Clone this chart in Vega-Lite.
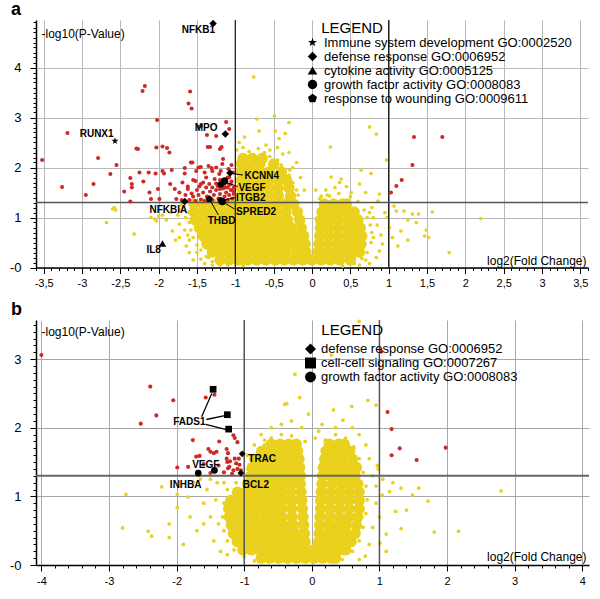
{
"$schema": "https://vega.github.io/schema/vega-lite/v6.json",
"padding": {"left": 9, "top": 1, "right": 4, "bottom": 2},
"config": {"view": {"stroke": null}, "font": "Liberation Sans"},
"spacing": 12,
"resolve": {"scale": {"shape": "independent"}, "legend": {"shape": "independent"}},
"datasets": {
"a_core": [
{"x":-1.2,"y":0.15},{"x":-1.08,"y":0.15},{"x":-0.96,"y":0.15},{"x":-0.84,"y":0.15},{"x":-0.72,"y":0.15},{"x":-0.6,"y":0.15},{"x":-0.48,"y":0.15},{"x":-0.36,"y":0.15},{"x":-0.24,"y":0.15},{"x":-0.12,"y":0.15},{"x":0,"y":0.15},{"x":0.12,"y":0.15},{"x":0.24,"y":0.15},{"x":0.36,"y":0.15},{"x":0.5,"y":0.15},
{"x":-1.3,"y":0.31},{"x":-1.18,"y":0.31},{"x":-1.06,"y":0.31},{"x":-0.94,"y":0.31},{"x":-0.82,"y":0.31},{"x":-0.7,"y":0.31},{"x":-0.58,"y":0.31},{"x":-0.46,"y":0.31},{"x":-0.34,"y":0.31},{"x":-0.2,"y":0.31},{"x":-0.08,"y":0.31},{"x":0.08,"y":0.31},{"x":0.2,"y":0.31},{"x":0.32,"y":0.31},{"x":0.44,"y":0.31},{"x":0.56,"y":0.31},{"x":0.62,"y":0.31},
{"x":-1.37,"y":0.47},{"x":-1.25,"y":0.47},{"x":-1.13,"y":0.47},{"x":-1.01,"y":0.47},{"x":-0.89,"y":0.47},{"x":-0.77,"y":0.47},{"x":-0.65,"y":0.47},{"x":-0.53,"y":0.47},{"x":-0.41,"y":0.47},{"x":-0.29,"y":0.47},{"x":-0.17,"y":0.47},{"x":-0.09,"y":0.47},{"x":0.09,"y":0.47},{"x":0.21,"y":0.47},{"x":0.33,"y":0.47},{"x":0.45,"y":0.47},{"x":0.57,"y":0.47},{"x":0.64,"y":0.47},
{"x":-1.42,"y":0.63},{"x":-1.3,"y":0.63},{"x":-1.18,"y":0.63},{"x":-1.06,"y":0.63},{"x":-0.94,"y":0.63},{"x":-0.82,"y":0.63},{"x":-0.7,"y":0.63},{"x":-0.58,"y":0.63},{"x":-0.46,"y":0.63},{"x":-0.34,"y":0.63},{"x":-0.22,"y":0.63},{"x":-0.11,"y":0.63},{"x":0.1,"y":0.63},{"x":0.22,"y":0.63},{"x":0.34,"y":0.63},{"x":0.46,"y":0.63},{"x":0.58,"y":0.63},{"x":0.65,"y":0.63},
{"x":-1.47,"y":0.79},{"x":-1.35,"y":0.79},{"x":-1.23,"y":0.79},{"x":-1.11,"y":0.79},{"x":-0.99,"y":0.79},{"x":-0.87,"y":0.79},{"x":-0.75,"y":0.79},{"x":-0.63,"y":0.79},{"x":-0.51,"y":0.79},{"x":-0.39,"y":0.79},{"x":-0.27,"y":0.79},{"x":-0.14,"y":0.79},{"x":0.11,"y":0.79},{"x":0.22,"y":0.79},{"x":0.34,"y":0.79},{"x":0.46,"y":0.79},{"x":0.56,"y":0.79},{"x":0.63,"y":0.79},
{"x":-1.52,"y":0.95},{"x":-1.4,"y":0.95},{"x":-1.28,"y":0.95},{"x":-1.16,"y":0.95},{"x":-1.04,"y":0.95},{"x":-0.92,"y":0.95},{"x":-0.8,"y":0.95},{"x":-0.68,"y":0.95},{"x":-0.56,"y":0.95},{"x":-0.44,"y":0.95},{"x":-0.32,"y":0.95},{"x":-0.16,"y":0.95},{"x":0.11,"y":0.95},{"x":0.23,"y":0.95},{"x":0.35,"y":0.95},{"x":0.47,"y":0.95},{"x":0.6,"y":0.95},
{"x":-1.54,"y":1.11},{"x":-1.42,"y":1.11},{"x":-1.3,"y":1.11},{"x":-1.18,"y":1.11},{"x":-1.06,"y":1.11},{"x":-0.94,"y":1.11},{"x":-0.82,"y":1.11},{"x":-0.7,"y":1.11},{"x":-0.58,"y":1.11},{"x":-0.46,"y":1.11},{"x":-0.34,"y":1.11},{"x":-0.19,"y":1.11},{"x":0.13,"y":1.11},{"x":0.25,"y":1.11},{"x":0.37,"y":1.11},{"x":0.47,"y":1.11},{"x":0.55,"y":1.11},
{"x":-1.54,"y":1.27},{"x":-1.42,"y":1.27},{"x":-1.3,"y":1.27},{"x":-1.18,"y":1.27},{"x":-1.06,"y":1.27},{"x":-0.94,"y":1.27},{"x":-0.82,"y":1.27},{"x":-0.7,"y":1.27},{"x":-0.58,"y":1.27},{"x":-0.46,"y":1.27},{"x":-0.34,"y":1.27},{"x":-0.24,"y":1.27},{"x":0.16,"y":1.27},{"x":0.28,"y":1.27},{"x":0.4,"y":1.27},{"x":0.45,"y":1.27},
{"x":-0.92,"y":1.43},{"x":-0.8,"y":1.43},{"x":-0.68,"y":1.43},{"x":-0.56,"y":1.43},{"x":-0.44,"y":1.43},{"x":-0.28,"y":1.43},
{"x":-0.92,"y":1.59},{"x":-0.8,"y":1.59},{"x":-0.68,"y":1.59},{"x":-0.56,"y":1.59},{"x":-0.44,"y":1.59},{"x":-0.3,"y":1.59},
{"x":-0.92,"y":1.75},{"x":-0.8,"y":1.75},{"x":-0.68,"y":1.75},{"x":-0.56,"y":1.75},{"x":-0.44,"y":1.75},{"x":-0.33,"y":1.75},
{"x":-0.92,"y":1.91},{"x":-0.8,"y":1.91},{"x":-0.68,"y":1.91},{"x":-0.56,"y":1.91},{"x":-0.4,"y":1.91},
{"x":-0.92,"y":2.07},{"x":-0.8,"y":2.07},{"x":-0.68,"y":2.07},{"x":-0.5,"y":2.07},
{"x":-0.9,"y":2.18},{"x":-0.78,"y":2.18},{"x":-0.65,"y":2.18}
],
"a_ns": [
{"x":-0.76,"y":3.81},{"x":-0.72,"y":2.97},{"x":-0.88,"y":2.61},{"x":-0.69,"y":2.73},{"x":-0.49,"y":3.03},{"x":-0.48,"y":2.73},{"x":-0.43,"y":2.58},{"x":-0.3,"y":2.9},{"x":-0.35,"y":2.68},{"x":0.75,"y":2.81},{"x":0.84,"y":2.67},{"x":0.24,"y":2.41},{"x":0.64,"y":1.95},{"x":0.77,"y":1.88},{"x":0.25,"y":1.81},{"x":0.38,"y":1.77},{"x":0.36,"y":1.7},{"x":0.62,"y":1.67},{"x":0.23,"y":1.43},{"x":0.12,"y":1.43},{"x":0.51,"y":1.5},{"x":0.88,"y":1.47},{"x":0.86,"y":1.33},{"x":0.97,"y":2.15},{"x":-0.38,"y":2.27},{"x":-0.29,"y":1.95},{"x":-0.2,"y":2.1},{"x":-0.15,"y":1.8},{"x":-0.1,"y":1.55},{"x":-0.6,"y":2.45},{"x":-0.95,"y":2.5},{"x":-0.55,"y":2.35},{"x":0.05,"y":1.55},{"x":0.3,"y":1.6},{"x":0.7,"y":1.5},{"x":0.45,"y":1.62},{"x":-0.3,"y":2.3},{"x":-0.25,"y":2.0},{"x":-0.45,"y":2.4},{"x":0.18,"y":1.55},
{"x":1.07,"y":1.23},{"x":1.2,"y":1.13},{"x":1.31,"y":1.07},{"x":1.39,"y":1.07},{"x":1.57,"y":1.11},{"x":2.2,"y":0.98},{"x":1.25,"y":0.95},{"x":1.36,"y":0.9},{"x":1.49,"y":0.75},{"x":1.47,"y":0.63},{"x":1.52,"y":0.6},{"x":1.25,"y":0.55},{"x":1.12,"y":0.43},{"x":1.79,"y":0.3},{"x":1.16,"y":0.73},{"x":1.1,"y":1.13},{"x":1.01,"y":0.8},{"x":1.05,"y":0.6},{"x":0.84,"y":0.2},{"x":0.88,"y":0.33},{"x":0.92,"y":0.47},{"x":0.8,"y":1.0},{"x":0.85,"y":0.85},{"x":0.9,"y":0.65},{"x":0.95,"y":1.1},{"x":0.78,"y":1.2},{"x":0.7,"y":0.15},{"x":0.75,"y":0.08},{"x":0.62,"y":0.05},{"x":0.98,"y":1.0},{"x":0.75,"y":1.1},{"x":0.8,"y":0.6},
{"x":-2.58,"y":1.2},{"x":-2.56,"y":1.15},{"x":-2.6,"y":1.17},{"x":-2.68,"y":0.9},{"x":-2.1,"y":1.0},{"x":-2.0,"y":1.03},{"x":-1.95,"y":1.05},{"x":-1.9,"y":0.95},{"x":-2.05,"y":0.97},{"x":-2.03,"y":0.93},{"x":-1.84,"y":1.1},{"x":-1.82,"y":0.73},{"x":-1.73,"y":0.87},{"x":-2.32,"y":0.67},{"x":-1.73,"y":0.6},{"x":-1.64,"y":0.43},{"x":-1.5,"y":0.3},{"x":-1.45,"y":0.17},{"x":-1.75,"y":1.05},{"x":-1.7,"y":1.25},{"x":-1.68,"y":1.2},{"x":-1.6,"y":0.3},{"x":-1.4,"y":0.08},{"x":-1.3,"y":0.05},{"x":-1.78,"y":0.55},{"x":-1.66,"y":0.75},{"x":-1.6,"y":0.55},{"x":-1.55,"y":0.15},{"x":-1.72,"y":1.15},{"x":-1.2,"y":0.05},{"x":-1.35,"y":0.2},
{"x":-1.62,"y":1.1},{"x":-1.6,"y":0.9},{"x":-1.58,"y":0.75},{"x":-1.55,"y":0.6},{"x":-1.5,"y":0.45},{"x":-1.45,"y":0.35},{"x":-1.38,"y":0.22},{"x":-1.3,"y":0.12},{"x":-1.65,"y":1.0},{"x":-1.67,"y":1.3},{"x":-1.62,"y":0.65},
{"x":-0.98,"y":2.35},{"x":-0.9,"y":2.4},{"x":-0.82,"y":2.32},{"x":-0.7,"y":2.38},{"x":-0.62,"y":2.3},{"x":-0.55,"y":2.22},{"x":-0.45,"y":2.15},{"x":-0.4,"y":2.05},{"x":-0.35,"y":1.95},{"x":-0.3,"y":1.85},{"x":-0.25,"y":1.7},{"x":-0.2,"y":1.55},{"x":-0.18,"y":1.45},
{"x":0.1,"y":1.38},{"x":0.2,"y":1.45},{"x":0.35,"y":1.48},{"x":0.5,"y":1.42},{"x":0.6,"y":1.32},{"x":0.68,"y":1.15},{"x":0.72,"y":1.0},{"x":0.76,"y":0.85},{"x":0.78,"y":0.7},{"x":0.77,"y":0.5},{"x":0.72,"y":0.3},{"x":0.65,"y":0.18},{"x":0.55,"y":0.08},{"x":-1.1,"y":0.05},{"x":-0.9,"y":0.04},{"x":0.4,"y":0.03}
],
"a_sig": [
{"x":-2.18,"y":3.63},{"x":-2.21,"y":3.53},{"x":-1.59,"y":3.52},{"x":-1.61,"y":3.28},{"x":-1.57,"y":3.18},{"x":-2.02,"y":2.95},{"x":-1.12,"y":2.91},{"x":-3.19,"y":2.69},{"x":-1.48,"y":2.81},{"x":-1.45,"y":2.83},{"x":-1.37,"y":2.65},{"x":-1.25,"y":2.63},{"x":-1.08,"y":2.77},{"x":-1.36,"y":2.41},{"x":-1.33,"y":2.41},{"x":-1.18,"y":2.41},{"x":-1.2,"y":2.37},{"x":-2.27,"y":2.37},{"x":-2.03,"y":2.4},{"x":-1.95,"y":2.42},{"x":-1.89,"y":2.39},
{"x":-3.52,"y":2.15},{"x":-3.26,"y":1.61},{"x":-2.95,"y":1.45},{"x":-2.79,"y":2.19},{"x":-2.63,"y":1.87},{"x":-2.55,"y":2.05},{"x":-2.85,"y":1.67},{"x":-2.37,"y":1.32},{"x":-2.45,"y":1.52},{"x":-2.37,"y":1.79},{"x":-2.35,"y":1.67},{"x":-2.35,"y":1.6},{"x":-2.29,"y":2.38},{"x":-2.25,"y":1.9},{"x":-2.2,"y":1.72},{"x":-2.13,"y":1.9},{"x":-2.12,"y":1.5},{"x":-2.1,"y":1.37},{"x":-2.04,"y":1.88},{"x":-2.01,"y":1.57},{"x":-1.99,"y":1.37},{"x":-1.95,"y":1.93},{"x":-1.93,"y":1.88},{"x":-1.86,"y":2.3},{"x":-1.85,"y":1.67},{"x":-1.83,"y":1.95},{"x":-1.79,"y":1.57},{"x":-1.77,"y":1.37},{"x":-1.73,"y":1.5},{"x":-1.69,"y":1.7},{"x":-1.66,"y":1.99},{"x":-1.66,"y":1.88},{"x":-1.62,"y":1.57},{"x":-1.58,"y":2.1},{"x":-1.56,"y":2.1},{"x":-1.52,"y":1.73},{"x":-1.51,"y":1.93},{"x":-1.48,"y":2.0},{"x":-1.45,"y":2.01},{"x":-1.45,"y":1.67},{"x":-1.4,"y":1.9},{"x":-1.38,"y":1.8},{"x":-1.38,"y":1.6},{"x":-1.35,"y":2.03},{"x":-1.34,"y":1.67},{"x":-1.31,"y":1.99},{"x":-1.3,"y":1.93},{"x":-1.27,"y":1.77},{"x":-1.25,"y":2.0},{"x":-1.23,"y":1.63},{"x":-1.21,"y":1.87},{"x":-1.19,"y":1.93},{"x":-1.17,"y":2.07},{"x":-1.16,"y":2.17},{"x":-1.13,"y":1.73},{"x":-1.1,"y":1.6},{"x":-1.09,"y":1.97},{"x":-1.08,"y":1.8},{"x":-1.06,"y":1.67},{"x":-1.03,"y":1.53},
{"x":-1.6,"y":1.35},{"x":-1.55,"y":1.42},{"x":-1.52,"y":1.33},{"x":-1.48,"y":1.45},{"x":-1.45,"y":1.36},{"x":-1.42,"y":1.5},{"x":-1.4,"y":1.33},{"x":-1.37,"y":1.42},{"x":-1.33,"y":1.52},{"x":-1.3,"y":1.35},{"x":-1.28,"y":1.45},{"x":-1.25,"y":1.55},{"x":-1.22,"y":1.38},{"x":-1.2,"y":1.47},{"x":-1.18,"y":1.32},{"x":-1.16,"y":1.58},{"x":-1.14,"y":1.42},{"x":-1.12,"y":1.5},{"x":-1.1,"y":1.35},{"x":-1.08,"y":1.45},{"x":-1.06,"y":1.55},{"x":-1.04,"y":1.38},{"x":-1.02,"y":1.47},{"x":-1.25,"y":1.68},{"x":-1.2,"y":1.75},{"x":-1.15,"y":1.65},{"x":-1.1,"y":1.8},{"x":-1.05,"y":1.72},{"x":-1.3,"y":1.6},{"x":-1.35,"y":1.35},{"x":-1.5,"y":1.55},{"x":-1.57,"y":1.48},{"x":-1.65,"y":1.45},{"x":-1.7,"y":1.35},{"x":-1.62,"y":1.62},{"x":-1.55,"y":1.75},{"x":-1.47,"y":1.62},{"x":-1.42,"y":1.7},{"x":-1.2,"y":1.57},{"x":-1.13,"y":1.6},{"x":-1.08,"y":1.65},{"x":-1.02,"y":1.6},{"x":-1.03,"y":1.9},{"x":-1.05,"y":2.05},
{"x":1.33,"y":2.61},{"x":1.7,"y":2.61},{"x":1.31,"y":2.05},{"x":1.17,"y":1.75},{"x":1.1,"y":1.63},{"x":1.03,"y":1.5}
],
"a_mk": [
{"g":"NFKB1","x":-1.29,"y":4.88,"go":"defense response GO:0006952"},
{"g":"RUNX1","x":-2.57,"y":2.53,"go":"Immune system development GO:0002520"},
{"g":"MPO","x":-1.13,"y":2.67,"go":"defense response GO:0006952"},
{"g":"KCNN4","x":-1.07,"y":1.89,"go":"defense response GO:0006952"},
{"g":"VEGF","x":-1.14,"y":1.73,"go":"growth factor activity GO:0008083"},
{"g":"VEGF","x":-1.19,"y":1.66,"go":"response to wounding GO:0009611"},
{"g":"ITGB2","x":-1.19,"y":1.34,"go":"response to wounding GO:0009611"},
{"g":"SPRED2","x":-1.17,"y":1.32,"go":"growth factor activity GO:0008083"},
{"g":"THBD","x":-1.34,"y":1.37,"go":"response to wounding GO:0009611"},
{"g":"NFKBIA","x":-1.66,"y":1.32,"go":"defense response GO:0006952"},
{"g":"IL8","x":-1.95,"y":0.48,"go":"cytokine activity GO:0005125"}
],
"a_lab": [
{"t":"NFKB1","x":-1.7,"y":4.75},{"t":"RUNX1","x":-3.03,"y":2.67},{"t":"MPO","x":-1.53,"y":2.79},{"t":"KCNN4","x":-0.88,"y":1.83},{"t":"VEGF","x":-0.96,"y":1.6},{"t":"ITGB2","x":-0.99,"y":1.4},{"t":"SPRED2","x":-0.99,"y":1.12},{"t":"THBD","x":-1.36,"y":0.93},{"t":"NFKBIA","x":-2.12,"y":1.15},{"t":"IL8","x":-2.16,"y":0.35}
],
"a_lead": [
{"x":-1.34,"y":1.37,"x2":-1.22,"y2":1.05},{"x":-1.17,"y":1.32,"x2":-1.01,"y2":1.17},{"x":-1.15,"y":1.35,"x2":-1.0,"y2":1.4},{"x":-1.04,"y":1.88,"x2":-0.9,"y2":1.85},{"x":-1.12,"y":1.7,"x2":-0.97,"y2":1.62}
],
"a_leg": [{"t":"LEGEND","x":0.12,"y":4.79}],
"a_v": [{"x":-1},{"x":1}],
"a_h": [{"y":1.3}],
"b_core": [
{"x":-0.75,"y":0.1},{"x":-0.62,"y":0.1},{"x":-0.49,"y":0.1},{"x":-0.36,"y":0.1},{"x":-0.23,"y":0.1},{"x":-0.1,"y":0.1},{"x":0.03,"y":0.1},{"x":0.16,"y":0.1},{"x":0.29,"y":0.1},{"x":0.35,"y":0.1},
{"x":-1.02,"y":0.22},{"x":-0.89,"y":0.22},{"x":-0.76,"y":0.22},{"x":-0.63,"y":0.22},{"x":-0.5,"y":0.22},{"x":-0.37,"y":0.22},{"x":-0.24,"y":0.22},{"x":-0.11,"y":0.22},{"x":0.02,"y":0.22},{"x":0.15,"y":0.22},{"x":0.28,"y":0.22},{"x":0.41,"y":0.22},{"x":0.5,"y":0.22},
{"x":-1.1,"y":0.34},{"x":-0.97,"y":0.34},{"x":-0.84,"y":0.34},{"x":-0.71,"y":0.34},{"x":-0.58,"y":0.34},{"x":-0.45,"y":0.34},{"x":-0.32,"y":0.34},{"x":-0.2,"y":0.34},{"x":-0.1,"y":0.34},{"x":0.1,"y":0.34},{"x":0.22,"y":0.34},{"x":0.34,"y":0.34},{"x":0.46,"y":0.34},{"x":0.58,"y":0.34},
{"x":-1.16,"y":0.46},{"x":-1.03,"y":0.46},{"x":-0.9,"y":0.46},{"x":-0.77,"y":0.46},{"x":-0.64,"y":0.46},{"x":-0.51,"y":0.46},{"x":-0.38,"y":0.46},{"x":-0.24,"y":0.46},{"x":-0.11,"y":0.46},{"x":0.11,"y":0.46},{"x":0.24,"y":0.46},{"x":0.37,"y":0.46},{"x":0.5,"y":0.46},{"x":0.64,"y":0.46},
{"x":-1.19,"y":0.58},{"x":-1.06,"y":0.58},{"x":-0.93,"y":0.58},{"x":-0.8,"y":0.58},{"x":-0.67,"y":0.58},{"x":-0.54,"y":0.58},{"x":-0.41,"y":0.58},{"x":-0.27,"y":0.58},{"x":-0.12,"y":0.58},{"x":0.115,"y":0.58},{"x":0.25,"y":0.58},{"x":0.38,"y":0.58},{"x":0.51,"y":0.58},{"x":0.66,"y":0.58},
{"x":-1.22,"y":0.7},{"x":-1.09,"y":0.7},{"x":-0.96,"y":0.7},{"x":-0.83,"y":0.7},{"x":-0.7,"y":0.7},{"x":-0.57,"y":0.7},{"x":-0.44,"y":0.7},{"x":-0.29,"y":0.7},{"x":-0.13,"y":0.7},{"x":0.12,"y":0.7},{"x":0.26,"y":0.7},{"x":0.4,"y":0.7},{"x":0.54,"y":0.7},{"x":0.68,"y":0.7},
{"x":-1.23,"y":0.82},{"x":-1.1,"y":0.82},{"x":-0.97,"y":0.82},{"x":-0.84,"y":0.82},{"x":-0.71,"y":0.82},{"x":-0.58,"y":0.82},{"x":-0.45,"y":0.82},{"x":-0.3,"y":0.82},{"x":-0.14,"y":0.82},{"x":0.13,"y":0.82},{"x":0.27,"y":0.82},{"x":0.41,"y":0.82},{"x":0.55,"y":0.82},{"x":0.7,"y":0.82},
{"x":-1.2,"y":0.94},{"x":-1.07,"y":0.94},{"x":-0.94,"y":0.94},{"x":-0.81,"y":0.94},{"x":-0.68,"y":0.94},{"x":-0.55,"y":0.94},{"x":-0.42,"y":0.94},{"x":-0.29,"y":0.94},{"x":-0.15,"y":0.94},{"x":0.13,"y":0.94},{"x":0.27,"y":0.94},{"x":0.41,"y":0.94},{"x":0.55,"y":0.94},{"x":0.7,"y":0.94},
{"x":-1.1,"y":1.06},{"x":-0.97,"y":1.06},{"x":-0.84,"y":1.06},{"x":-0.71,"y":1.06},{"x":-0.58,"y":1.06},{"x":-0.45,"y":1.06},{"x":-0.31,"y":1.06},{"x":-0.16,"y":1.06},{"x":0.14,"y":1.06},{"x":0.28,"y":1.06},{"x":0.42,"y":1.06},{"x":0.56,"y":1.06},{"x":0.7,"y":1.06},
{"x":-0.95,"y":1.18},{"x":-0.82,"y":1.18},{"x":-0.69,"y":1.18},{"x":-0.56,"y":1.18},{"x":-0.43,"y":1.18},{"x":-0.3,"y":1.18},{"x":-0.17,"y":1.18},{"x":0.15,"y":1.18},{"x":0.3,"y":1.18},{"x":0.44,"y":1.18},{"x":0.57,"y":1.18},{"x":0.68,"y":1.18},
{"x":-0.9,"y":1.3},{"x":-0.77,"y":1.3},{"x":-0.64,"y":1.3},{"x":-0.51,"y":1.3},{"x":-0.38,"y":1.3},{"x":-0.27,"y":1.3},{"x":-0.17,"y":1.3},{"x":0.16,"y":1.3},{"x":0.28,"y":1.3},{"x":0.4,"y":1.3},{"x":0.52,"y":1.3},{"x":0.64,"y":1.3},
{"x":-0.88,"y":1.42},{"x":-0.75,"y":1.42},{"x":-0.62,"y":1.42},{"x":-0.49,"y":1.42},{"x":-0.36,"y":1.42},{"x":-0.25,"y":1.42},{"x":-0.18,"y":1.42},{"x":0.17,"y":1.42},{"x":0.3,"y":1.42},{"x":0.43,"y":1.42},{"x":0.56,"y":1.42},{"x":0.66,"y":1.42},
{"x":-0.84,"y":1.54},{"x":-0.71,"y":1.54},{"x":-0.58,"y":1.54},{"x":-0.45,"y":1.54},{"x":-0.32,"y":1.54},{"x":-0.19,"y":1.54},{"x":0.19,"y":1.54},{"x":0.32,"y":1.54},{"x":0.45,"y":1.54},{"x":0.6,"y":1.54},
{"x":-0.74,"y":1.66},{"x":-0.61,"y":1.66},{"x":-0.48,"y":1.66},{"x":-0.35,"y":1.66},{"x":-0.21,"y":1.66},{"x":0.21,"y":1.66},{"x":0.34,"y":1.66},{"x":0.47,"y":1.66},{"x":0.56,"y":1.66},
{"x":-0.6,"y":1.76},{"x":-0.47,"y":1.76},{"x":-0.34,"y":1.76},{"x":-0.23,"y":1.76},{"x":0.26,"y":1.76},{"x":0.4,"y":1.76},{"x":0.48,"y":1.76}
],
"b_ns": [
{"x":0.7,"y":3.55},{"x":-0.25,"y":2.78},{"x":0.29,"y":3.06},{"x":-0.4,"y":2.34},{"x":-0.18,"y":2.44},{"x":0.83,"y":2.4},{"x":0.95,"y":2.33},{"x":0.32,"y":2.26},{"x":0.59,"y":2.31},{"x":0.46,"y":2.11},{"x":-0.37,"y":2.35},{"x":0.15,"y":2.05},{"x":-0.05,"y":2.2},{"x":-0.3,"y":2.1},{"x":-0.45,"y":2.05},{"x":-0.6,"y":2.0},{"x":-0.75,"y":1.9},{"x":-0.85,"y":1.75},{"x":-0.95,"y":1.6},{"x":0.7,"y":1.9},{"x":0.8,"y":1.75},{"x":0.85,"y":1.55},{"x":0.9,"y":1.3},{"x":0.6,"y":2.0},{"x":0.35,"y":2.0},{"x":0.05,"y":1.85},{"x":0.1,"y":1.95},{"x":-0.15,"y":2.0},{"x":0.5,"y":1.8},{"x":0.62,"y":1.72},{"x":0.2,"y":1.82},{"x":-0.1,"y":1.8},{"x":-0.7,"y":1.82},
{"x":-2.75,"y":1.03},{"x":-2.8,"y":0.54},{"x":-2.42,"y":0.49},{"x":-2.37,"y":0.42},{"x":-2.11,"y":0.6},{"x":-2.11,"y":0.4},{"x":-2.22,"y":1.14},{"x":-1.99,"y":1.03},{"x":-1.99,"y":0.84},{"x":-1.83,"y":0.99},{"x":-1.8,"y":0.7},{"x":-1.7,"y":0.5},{"x":-1.6,"y":0.9},{"x":-1.55,"y":1.1},{"x":-1.5,"y":0.7},{"x":-1.45,"y":0.35},{"x":-1.4,"y":1.2},{"x":-1.35,"y":0.2},{"x":-1.75,"y":1.2},{"x":-1.65,"y":1.25},{"x":-1.9,"y":0.3},{"x":-1.5,"y":1.25},{"x":-1.42,"y":0.95},{"x":-1.3,"y":1.2},{"x":-1.6,"y":0.6},{"x":-1.38,"y":0.6},{"x":-1.25,"y":0.15},
{"x":2.8,"y":1.08},{"x":2.17,"y":0.49},{"x":1.81,"y":0.48},{"x":1.72,"y":0.93},{"x":1.58,"y":1.12},{"x":1.49,"y":1.02},{"x":1.32,"y":1.12},{"x":1.15,"y":1.07},{"x":1.24,"y":0.78},{"x":1.32,"y":0.53},{"x":1.04,"y":1.02},{"x":0.79,"y":0.13},{"x":1.01,"y":0.32},{"x":1.1,"y":0.45},{"x":0.95,"y":0.9},{"x":1.0,"y":0.7},{"x":0.9,"y":0.55},{"x":0.85,"y":0.3},{"x":1.2,"y":1.2},{"x":1.4,"y":0.8},{"x":1.1,"y":0.2},{"x":0.95,"y":1.15},{"x":1.05,"y":1.25},{"x":0.7,"y":0.08},{"x":0.97,"y":1.45},{"x":0.98,"y":1.4},
{"x":-1.3,"y":0.9},{"x":-1.32,"y":0.7},{"x":-1.3,"y":0.5},{"x":-1.25,"y":0.35},{"x":-1.15,"y":0.22},{"x":-1.0,"y":0.12},{"x":-0.85,"y":0.06},{"x":-1.25,"y":1.1},{"x":-1.12,"y":1.2},
{"x":-0.95,"y":1.4},{"x":-0.9,"y":1.55},{"x":-0.8,"y":1.65},{"x":-0.7,"y":1.75},{"x":-0.6,"y":1.85},{"x":-0.45,"y":1.9},{"x":-0.3,"y":1.88},{"x":-0.2,"y":1.8},
{"x":0.2,"y":1.8},{"x":0.35,"y":1.9},{"x":0.5,"y":1.85},{"x":0.62,"y":1.7},{"x":0.7,"y":1.55},{"x":0.76,"y":1.35},{"x":0.8,"y":1.15},{"x":0.82,"y":0.95},{"x":0.8,"y":0.75},{"x":0.76,"y":0.55},{"x":0.7,"y":0.35},{"x":0.6,"y":0.2},{"x":0.45,"y":0.08}
],
"b_sig": [
{"x":-4.0,"y":3.06},{"x":-2.39,"y":2.6},{"x":-2.05,"y":2.4},{"x":-2.3,"y":2.18},{"x":-2.53,"y":2.06},{"x":-1.57,"y":2.44},{"x":-1.44,"y":2.48},{"x":-1.76,"y":1.82},{"x":-1.37,"y":1.8},{"x":-1.16,"y":1.89},{"x":-1.14,"y":1.85},{"x":-1.1,"y":1.79},{"x":-1.53,"y":1.69},{"x":-1.5,"y":1.65},{"x":-1.41,"y":1.65},{"x":-1.66,"y":1.59},{"x":-1.71,"y":1.58},{"x":-1.99,"y":1.42},{"x":-1.83,"y":1.43},{"x":-1.26,"y":1.69},{"x":-1.24,"y":1.63},{"x":-1.26,"y":1.55},{"x":-1.21,"y":1.51},{"x":-1.14,"y":1.55},{"x":-1.12,"y":1.48},{"x":-1.07,"y":1.46},{"x":-1.24,"y":1.41},{"x":-1.16,"y":1.38},{"x":-1.45,"y":1.63},{"x":-1.5,"y":1.34},{"x":-1.25,"y":1.5},{"x":-1.22,"y":1.43},{"x":-1.1,"y":1.4},{"x":-1.05,"y":1.38},{"x":-1.3,"y":1.35},{"x":-1.6,"y":1.47},{"x":-1.38,"y":1.45},{"x":-1.18,"y":1.33},{"x":-1.08,"y":1.55},
{"x":1.12,"y":2.23},{"x":1.18,"y":1.98},{"x":1.3,"y":1.7},{"x":1.18,"y":1.6},{"x":1.55,"y":1.53},{"x":1.98,"y":1.71},{"x":1.03,"y":3.11}
],
"b_mk": [
{"g":"FADS1","x":-1.46,"y":2.56,"go":"cell-cell signaling GO:0007267"},
{"g":"FADS1","x":-1.25,"y":2.19,"go":"cell-cell signaling GO:0007267"},
{"g":"FADS1","x":-1.23,"y":1.98,"go":"cell-cell signaling GO:0007267"},
{"g":"TRAC","x":-1.03,"y":1.62,"go":"defense response GO:0006952"},
{"g":"VEGF","x":-1.44,"y":1.38,"go":"growth factor activity GO:0008083"},
{"g":"INHBA","x":-1.68,"y":1.34,"go":"growth factor activity GO:0008083"},
{"g":"BCL2","x":-1.05,"y":1.34,"go":"defense response GO:0006952"}
],
"b_lab": [
{"t":"FADS1","x":-2.05,"y":2.09},{"t":"TRAC","x":-0.94,"y":1.55},{"t":"VEGF","x":-1.77,"y":1.46},{"t":"INHBA","x":-2.1,"y":1.16},{"t":"BCL2","x":-1.02,"y":1.16}
],
"b_lead": [
{"x":-1.63,"y":2.16,"x2":-1.48,"y2":2.5},{"x":-1.56,"y":2.12,"x2":-1.27,"y2":2.18},{"x":-1.57,"y":2.05,"x2":-1.25,"y2":1.97}
],
"b_leg": [{"t":"LEGEND","x":0.14,"y":3.42}],
"b_v": [{"x":-1},{"x":1}],
"b_h": [{"y":1.3}]
},
"vconcat": [
{
"width": 552, "height": 247.5,
"title": {"text": "a", "anchor": "start", "frame": "group", "fontSize": 18, "fontWeight": "bold", "font": "Liberation Sans", "dx": -25, "offset": 0},
"resolve": {"axis": {"x": "independent", "y": "independent"}},
"layer": [
{"data": {"name": "a_core"}, "mark": {"type": "point", "filled": true, "size": 130, "color": "#E9D11E", "opacity": 1},
 "encoding": {
  "x": {"field": "x", "type": "quantitative", "scale": {"domain": [-3.6, 3.6], "nice": false, "zero": false},
   "axis": {"orient": "bottom", "values": [-3.5,-3,-2.5,-2,-1.5,-1,-0.5,0,0.5,1,1.5,2,2.5,3,3.5],
    "labelExpr": "replace(replace(format(datum.value,'~g'),'−','-'),'.',',')",
    "tickSize": 6, "grid": true, "gridColor": "#b8b8b8", "gridWidth": 1,
    "domainColor": "black", "domainWidth": 1.5, "tickColor": "black", "tickWidth": 1,
    "labelFont": "Liberation Sans Narrow, Liberation Sans", "labelFontSize": 11, "labelColor": "black", "labelPadding": 4,
    "labelOverlap": false, "labelFlush": false, "labelBound": false,
    "title": "log2(Fold Change)", "titleFont": "Liberation Sans Narrow, Liberation Sans", "titleFontSize": 12, "titleFontWeight": "normal", "titleColor": "black",
    "titleAnchor": "end", "titleAlign": "right", "titleBaseline": "middle", "titleX": 550, "titleY": -7.5}},
  "y": {"field": "y", "type": "quantitative", "scale": {"domain": [0, 4.95], "nice": false, "zero": false},
   "axis": {"orient": "left", "values": [0,1,2,3,4],
    "labelExpr": "datum.value==0 ? '-0' : datum.label",
    "tickSize": 6, "grid": true, "gridColor": "#b8b8b8", "gridWidth": 1,
    "domainColor": "black", "domainWidth": 1.5, "tickColor": "black", "tickWidth": 1,
    "labelFont": "Liberation Sans", "labelFontSize": 13, "labelColor": "black", "labelPadding": 9,
    "labelOverlap": false, "labelFlush": false, "labelBound": false,
    "title": "-log10(P-Value)", "titleFont": "Liberation Sans Narrow, Liberation Sans", "titleFontSize": 12, "titleFontWeight": "normal", "titleColor": "black",
    "titleAngle": 0, "titleAlign": "left", "titleBaseline": "middle", "titleX": 5, "titleY": 13.5}}
 }},
{"data": {"name": "a_ns"}, "mark": {"type": "point", "filled": true, "size": 14, "color": "#E9D11E", "opacity": 1},
 "encoding": {"x": {"field": "x", "type": "quantitative", "scale": {"domain": [-3.6, 3.6], "nice": false, "zero": false},
   "axis": {"orient": "bottom", "values": [-3.6,-3.4,-3.3,-3.2,-3.1,-2.9,-2.8,-2.7,-2.6,-2.4,-2.3,-2.2,-2.1,-1.9,-1.8,-1.7,-1.6,-1.4,-1.3,-1.2,-1.1,-0.9,-0.8,-0.7,-0.6,-0.4,-0.3,-0.2,-0.1,0.1,0.2,0.3,0.4,0.6,0.7,0.8,0.9,1.1,1.2,1.3,1.4,1.6,1.7,1.8,1.9,2.1,2.2,2.3,2.4,2.6,2.7,2.8,2.9,3.1,3.2,3.3,3.4,3.6], "labels": false, "domain": false, "grid": false, "tickSize": 3, "tickColor": "black", "tickWidth": 1, "title": null}},
  "y": {"field": "y", "type": "quantitative", "scale": {"domain": [0, 4.95], "nice": false, "zero": false},
   "axis": {"orient": "left", "values": [0.1,0.2,0.3,0.4,0.5,0.6,0.7,0.8,0.9,1.1,1.2,1.3,1.4,1.5,1.6,1.7,1.8,1.9,2.1,2.2,2.3,2.4,2.5,2.6,2.7,2.8,2.9,3.1,3.2,3.3,3.4,3.5,3.6,3.7,3.8,3.9,4.1,4.2,4.3,4.4,4.5,4.6,4.7,4.8,4.9], "labels": false, "domain": false, "grid": false, "tickSize": 3, "tickColor": "black", "tickWidth": 1, "title": null}}}},
{"data": {"name": "a_v"}, "mark": {"type": "rule", "color": "#222", "strokeWidth": 1.3},
 "encoding": {"x": {"field": "x", "type": "quantitative", "scale": {"domain": [-3.6, 3.6], "nice": false, "zero": false}, "axis": null}}},
{"data": {"name": "a_h"}, "mark": {"type": "rule", "color": "#555", "strokeWidth": 1.3},
 "encoding": {"y": {"field": "y", "type": "quantitative", "scale": {"domain": [0, 4.95], "nice": false, "zero": false}, "axis": null}}},
{"data": {"name": "a_sig"}, "mark": {"type": "point", "filled": true, "size": 17, "color": "#CC2A2A", "opacity": 1},
 "encoding": {"x": {"field": "x", "type": "quantitative", "scale": {"domain": [-3.6, 3.6], "nice": false, "zero": false}, "axis": null},
  "y": {"field": "y", "type": "quantitative", "scale": {"domain": [0, 4.95], "nice": false, "zero": false}, "axis": null}}},
{"data": {"name": "a_lead"}, "mark": {"type": "rule", "color": "black", "strokeWidth": 1},
 "encoding": {"x": {"field": "x", "type": "quantitative", "scale": {"domain": [-3.6, 3.6], "nice": false, "zero": false}, "axis": null},
  "y": {"field": "y", "type": "quantitative", "scale": {"domain": [0, 4.95], "nice": false, "zero": false}, "axis": null},
  "x2": {"field": "x2"}, "y2": {"field": "y2"}}},
{"data": {"name": "a_mk"}, "mark": {"type": "point", "filled": true, "size": 55, "color": "black", "opacity": 1},
 "encoding": {"x": {"field": "x", "type": "quantitative", "scale": {"domain": [-3.6, 3.6], "nice": false, "zero": false}, "axis": null},
  "y": {"field": "y", "type": "quantitative", "scale": {"domain": [0, 4.95], "nice": false, "zero": false}, "axis": null},
  "shape": {"field": "go", "type": "nominal",
   "scale": {"domain": ["Immune system development GO:0002520", "defense response GO:0006952", "cytokine activity GO:0005125", "growth factor activity GO:0008083", "response to wounding GO:0009611"],
    "range": ["M0,-1L0.2245,-0.309L0.951,-0.309L0.363,0.118L0.588,0.809L0,0.382L-0.588,0.809L-0.363,0.118L-0.951,-0.309L-0.2245,-0.309Z", "diamond", "triangle-up", "circle", "M0,-1L0.95,-0.31L0.59,0.81L-0.59,0.81L-0.95,-0.31Z"]},
   "legend": {"orient": "none", "legendX": 270, "legendY": 16, "title": null, "padding": 0, "labelFont": "Liberation Sans", "labelFontSize": 13, "labelColor": "black", "labelOffset": 5, "labelLimit": 400, "symbolSize": 90, "symbolFillColor": "black", "symbolStrokeColor": "black", "symbolStrokeWidth": 0, "rowPadding": -0.4, "symbolOffset": 0}}}},
{"data": {"name": "a_lab"}, "mark": {"type": "text", "align": "left", "baseline": "middle", "fontSize": 10, "fontWeight": "bold", "font": "Liberation Sans", "color": "black"},
 "encoding": {"x": {"field": "x", "type": "quantitative", "scale": {"domain": [-3.6, 3.6], "nice": false, "zero": false}, "axis": null},
  "y": {"field": "y", "type": "quantitative", "scale": {"domain": [0, 4.95], "nice": false, "zero": false}, "axis": null},
  "text": {"field": "t"}}},
{"data": {"name": "a_leg"}, "mark": {"type": "text", "align": "left", "baseline": "middle", "fontSize": 15, "font": "Liberation Sans", "color": "black"},
 "encoding": {"x": {"field": "x", "type": "quantitative", "scale": {"domain": [-3.6, 3.6], "nice": false, "zero": false}, "axis": null},
  "y": {"field": "y", "type": "quantitative", "scale": {"domain": [0, 4.95], "nice": false, "zero": false}, "axis": null},
  "text": {"field": "t"}}}
]
},
{
"width": 553, "height": 245,
"title": {"text": "b", "anchor": "start", "frame": "group", "fontSize": 18, "fontWeight": "bold", "font": "Liberation Sans", "dx": -25, "offset": 0},
"resolve": {"axis": {"x": "independent", "y": "independent"}},
"layer": [
{"data": {"name": "b_core"}, "mark": {"type": "point", "filled": true, "size": 130, "color": "#E9D11E", "opacity": 1},
 "encoding": {
  "x": {"field": "x", "type": "quantitative", "scale": {"domain": [-4.08, 4.1], "nice": false, "zero": false},
   "axis": {"orient": "bottom", "values": [-4,-3,-2,-1,0,1,2,3,4],
    "labelExpr": "replace(format(datum.value,'d'),'−','-')",
    "tickSize": 6, "grid": true, "gridColor": "#a8a8a8", "gridWidth": 1,
    "domainColor": "black", "domainWidth": 1.5, "tickColor": "black", "tickWidth": 1,
    "labelFont": "Liberation Sans Narrow, Liberation Sans", "labelFontSize": 11, "labelColor": "black", "labelPadding": 4,
    "labelOverlap": false, "labelFlush": false, "labelBound": false,
    "title": "log2(Fold Change)", "titleFont": "Liberation Sans Narrow, Liberation Sans", "titleFontSize": 12, "titleFontWeight": "normal", "titleColor": "black",
    "titleAnchor": "end", "titleAlign": "right", "titleBaseline": "middle", "titleX": 550, "titleY": -8.5}},
  "y": {"field": "y", "type": "quantitative", "scale": {"domain": [0, 3.57], "nice": false, "zero": false},
   "axis": {"orient": "left", "values": [0,1,2,3],
    "labelExpr": "datum.value==0 ? '-0' : datum.label",
    "tickSize": 6, "grid": true, "gridColor": "#a8a8a8", "gridWidth": 1,
    "domainColor": "black", "domainWidth": 1.5, "tickColor": "black", "tickWidth": 1,
    "labelFont": "Liberation Sans", "labelFontSize": 13, "labelColor": "black", "labelPadding": 9,
    "labelOverlap": false, "labelFlush": false, "labelBound": false,
    "title": "-log10(P-Value)", "titleFont": "Liberation Sans Narrow, Liberation Sans", "titleFontSize": 12, "titleFontWeight": "normal", "titleColor": "black",
    "titleAngle": 0, "titleAlign": "left", "titleBaseline": "middle", "titleX": 5, "titleY": 11}}
 }},
{"data": {"name": "b_ns"}, "mark": {"type": "point", "filled": true, "size": 14, "color": "#E9D11E", "opacity": 1},
 "encoding": {"x": {"field": "x", "type": "quantitative", "scale": {"domain": [-4.08, 4.1], "nice": false, "zero": false},
   "axis": {"orient": "bottom", "values": [-3.8,-3.6,-3.4,-3.2,-2.8,-2.6,-2.4,-2.2,-1.8,-1.6,-1.4,-1.2,-0.8,-0.6,-0.4,-0.2,0.2,0.4,0.6,0.8,1.2,1.4,1.6,1.8,2.2,2.4,2.6,2.8,3.2,3.4,3.6,3.8], "labels": false, "domain": false, "grid": false, "tickSize": 3, "tickColor": "black", "tickWidth": 1, "title": null}},
  "y": {"field": "y", "type": "quantitative", "scale": {"domain": [0, 3.57], "nice": false, "zero": false},
   "axis": {"orient": "left", "values": [0.1,0.2,0.3,0.4,0.5,0.6,0.7,0.8,0.9,1.1,1.2,1.3,1.4,1.5,1.6,1.7,1.8,1.9,2.1,2.2,2.3,2.4,2.5,2.6,2.7,2.8,2.9,3.1,3.2,3.3,3.4,3.5], "labels": false, "domain": false, "grid": false, "tickSize": 3, "tickColor": "black", "tickWidth": 1, "title": null}}}},
{"data": {"name": "b_v"}, "mark": {"type": "rule", "color": "#555", "strokeWidth": 1.5},
 "encoding": {"x": {"field": "x", "type": "quantitative", "scale": {"domain": [-4.08, 4.1], "nice": false, "zero": false}, "axis": null}}},
{"data": {"name": "b_h"}, "mark": {"type": "rule", "color": "#666", "strokeWidth": 2},
 "encoding": {"y": {"field": "y", "type": "quantitative", "scale": {"domain": [0, 3.57], "nice": false, "zero": false}, "axis": null}}},
{"data": {"name": "b_sig"}, "mark": {"type": "point", "filled": true, "size": 17, "color": "#CC2A2A", "opacity": 1},
 "encoding": {"x": {"field": "x", "type": "quantitative", "scale": {"domain": [-4.08, 4.1], "nice": false, "zero": false}, "axis": null},
  "y": {"field": "y", "type": "quantitative", "scale": {"domain": [0, 3.57], "nice": false, "zero": false}, "axis": null}}},
{"data": {"name": "b_lead"}, "mark": {"type": "rule", "color": "black", "strokeWidth": 1.3},
 "encoding": {"x": {"field": "x", "type": "quantitative", "scale": {"domain": [-4.08, 4.1], "nice": false, "zero": false}, "axis": null},
  "y": {"field": "y", "type": "quantitative", "scale": {"domain": [0, 3.57], "nice": false, "zero": false}, "axis": null},
  "x2": {"field": "x2"}, "y2": {"field": "y2"}}},
{"data": {"name": "b_mk"}, "mark": {"type": "point", "filled": true, "size": 45, "color": "black", "opacity": 1},
 "encoding": {"x": {"field": "x", "type": "quantitative", "scale": {"domain": [-4.08, 4.1], "nice": false, "zero": false}, "axis": null},
  "y": {"field": "y", "type": "quantitative", "scale": {"domain": [0, 3.57], "nice": false, "zero": false}, "axis": null},
  "shape": {"field": "go", "type": "nominal",
   "scale": {"domain": ["defense response GO:0006952", "cell-cell signaling GO:0007267", "growth factor activity GO:0008083"], "range": ["diamond", "square", "circle"]},
   "legend": {"orient": "none", "legendX": 268, "legendY": 22.5, "title": null, "padding": 0, "labelFont": "Liberation Sans", "labelFontSize": 13, "labelColor": "black", "labelOffset": 4, "labelLimit": 400, "symbolSize": 120, "symbolFillColor": "black", "symbolStrokeColor": "black", "symbolStrokeWidth": 0, "rowPadding": -1.2, "symbolOffset": 0}}}},
{"data": {"name": "b_lab"}, "mark": {"type": "text", "align": "left", "baseline": "middle", "fontSize": 10, "fontWeight": "bold", "font": "Liberation Sans", "color": "black"},
 "encoding": {"x": {"field": "x", "type": "quantitative", "scale": {"domain": [-4.08, 4.1], "nice": false, "zero": false}, "axis": null},
  "y": {"field": "y", "type": "quantitative", "scale": {"domain": [0, 3.57], "nice": false, "zero": false}, "axis": null},
  "text": {"field": "t"}}},
{"data": {"name": "b_leg"}, "mark": {"type": "text", "align": "left", "baseline": "middle", "fontSize": 15, "font": "Liberation Sans", "color": "black"},
 "encoding": {"x": {"field": "x", "type": "quantitative", "scale": {"domain": [-4.08, 4.1], "nice": false, "zero": false}, "axis": null},
  "y": {"field": "y", "type": "quantitative", "scale": {"domain": [0, 3.57], "nice": false, "zero": false}, "axis": null},
  "text": {"field": "t"}}}
]
}
]
}
